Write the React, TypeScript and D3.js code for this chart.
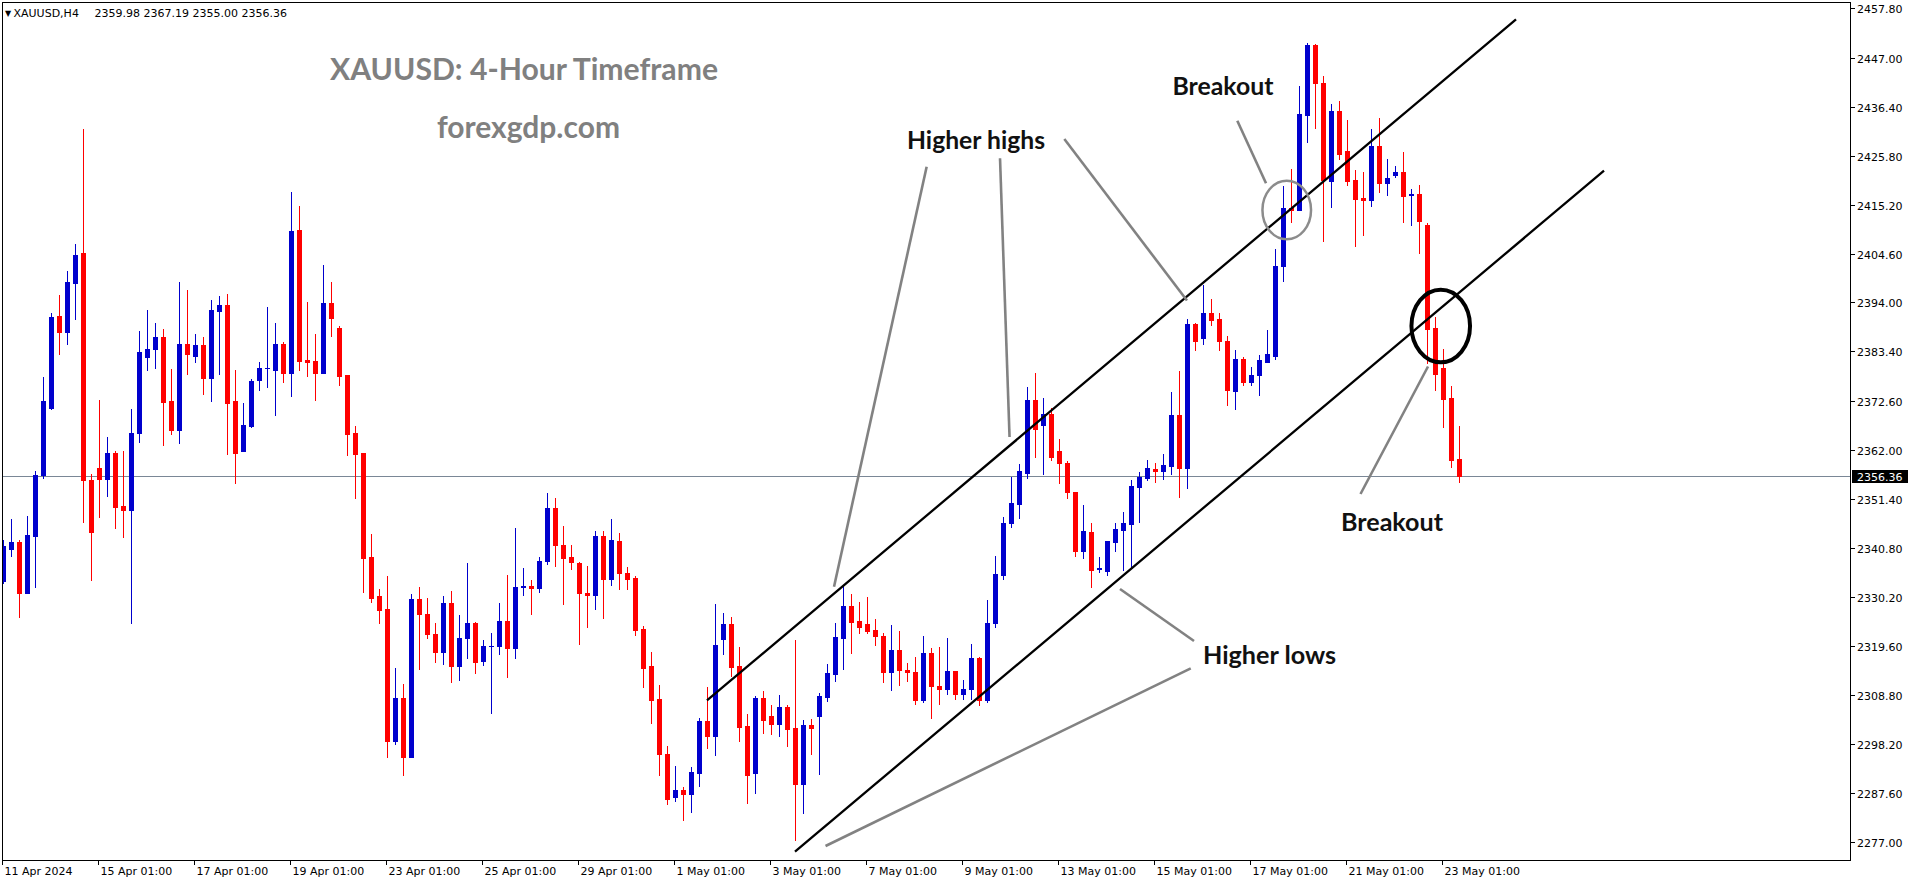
import React from "react";
import * as d3 from "d3";

// ---------- DATA (XAUUSD H4) ----------
const opens = [
  2333.7, 2340.6, 2342.1, 2330.9, 2343.4, 2356.5, 2371.2, 2391.1, 2387.5, 2398.3,
  2404.7, 2355.4, 2358.1, 2355.8, 2361.4, 2349.9, 2348.9, 2365.6, 2382.2, 2384.0,
  2386.5, 2372.6, 2366.4, 2385.0, 2382.5, 2384.8, 2377.7, 2392.2, 2393.5, 2372.6,
  2361.7, 2367.3, 2377.1, 2379.7, 2379.4, 2385.0, 2378.8, 2409.7, 2381.5, 2381.3,
  2378.7, 2393.9, 2388.5, 2378.2, 2365.7, 2361.3, 2338.7, 2330.3, 2327.6, 2298.8,
  2308.2, 2295.5, 2329.7, 2326.5, 2322.2, 2318.2, 2328.9, 2315.1, 2321.2, 2324.6,
  2316.2, 2319.4, 2319.4, 2325.0, 2319.0, 2332.3, 2332.6, 2332.0, 2337.9, 2349.5,
  2341.4, 2338.7, 2337.4, 2331.1, 2330.5, 2343.4, 2334.0, 2342.3, 2335.3, 2334.3,
  2323.2, 2315.2, 2308.0, 2296.1, 2286.8, 2288.3, 2287.5, 2292.0, 2303.2, 2300.0,
  2321.0, 2324.3, 2315.2, 2302.2, 2292.0, 2308.2, 2304.3, 2302.6, 2306.3, 2301.7,
  2289.6, 2302.4, 2304.3, 2308.5, 2313.4, 2321.2, 2328.2, 2324.9, 2324.3, 2323.0,
  2321.7, 2313.9, 2318.6, 2314.3, 2313.9, 2307.8, 2317.9, 2310.9, 2310.1, 2314.0,
  2309.0, 2310.1, 2316.9, 2307.7, 2324.4, 2335.0, 2346.1, 2350.4, 2357.1, 2372.9,
  2367.5, 2369.8, 2361.9, 2359.3, 2352.8, 2340.2, 2344.2, 2336.2, 2335.8, 2342.1,
  2344.7, 2346.0, 2353.9, 2356.0, 2357.8, 2357.5, 2358.6, 2369.5, 2358.0, 2389.3,
  2386.3, 2391.7, 2390.4, 2385.7, 2374.9, 2381.7, 2376.8, 2378.3, 2381.1, 2382.5,
  2401.9, 2414.4, 2414.0, 2434.7, 2449.8, 2441.7, 2420.4, 2435.5, 2426.9, 2420.6,
  2416.6, 2416.3, 2427.9, 2420.0, 2421.6, 2422.3, 2417.4, 2417.5, 2410.8, 2388.5,
  2379.8, 2373.3, 2359.98,
];
const highs = [
  2342.5, 2347.1, 2342.5, 2347.7, 2357.5, 2377.9, 2391.8, 2395.6, 2400.8, 2406.7,
  2431.6, 2356.8, 2372.9, 2364.9, 2361.9, 2361.7, 2370.9, 2387.9, 2392.4, 2389.6,
  2388.3, 2379.6, 2398.5, 2396.7, 2387.2, 2386.5, 2394.5, 2395.4, 2395.9, 2379.4,
  2372.3, 2377.5, 2381.1, 2393.0, 2389.6, 2385.4, 2418.0, 2414.9, 2394.1, 2387.2,
  2402.1, 2398.4, 2388.9, 2378.2, 2367.2, 2361.4, 2343.9, 2331.9, 2334.6, 2314.8,
  2311.3, 2330.8, 2332.2, 2329.9, 2324.4, 2330.3, 2331.4, 2326.2, 2337.4, 2324.8,
  2320.9, 2322.3, 2328.9, 2334.8, 2345.0, 2336.5, 2333.8, 2338.8, 2352.6, 2351.7,
  2345.5, 2341.5, 2337.7, 2336.8, 2344.5, 2344.4, 2347.0, 2344.1, 2336.6, 2334.7,
  2323.8, 2318.2, 2311.1, 2297.8, 2293.5, 2288.9, 2293.3, 2303.8, 2310.6, 2328.6,
  2326.7, 2325.8, 2319.3, 2304.8, 2308.7, 2309.8, 2306.7, 2308.9, 2306.7, 2320.8,
  2303.5, 2303.7, 2309.3, 2315.6, 2324.5, 2332.5, 2330.8, 2329.1, 2330.1, 2325.4,
  2322.3, 2324.1, 2322.8, 2315.8, 2317.1, 2321.7, 2319.0, 2319.3, 2321.2, 2314.0,
  2312.1, 2319.9, 2317.2, 2329.5, 2339.0, 2347.4, 2356.1, 2359.0, 2375.7, 2378.7,
  2373.3, 2371.2, 2364.5, 2359.7, 2352.8, 2350.0, 2346.1, 2338.7, 2342.3, 2346.1,
  2348.5, 2355.4, 2357.2, 2359.8, 2359.1, 2361.2, 2374.6, 2379.2, 2390.4, 2389.6,
  2397.7, 2394.8, 2391.7, 2386.7, 2383.8, 2382.2, 2380.0, 2382.6, 2388.0, 2405.5,
  2419.2, 2423.0, 2441.0, 2450.2, 2450.1, 2443.1, 2437.0, 2437.6, 2433.6, 2422.8,
  2422.3, 2431.6, 2434.0, 2425.1, 2423.6, 2426.6, 2418.6, 2419.5, 2411.3, 2390.9,
  2383.9, 2375.9, 2367.19,
];
const lows = [
  2333.2, 2339.0, 2325.9, 2330.9, 2332.4, 2355.9, 2370.8, 2382.9, 2384.9, 2390.5,
  2346.4, 2333.8, 2347.4, 2352.1, 2345.0, 2343.2, 2324.4, 2363.8, 2379.4, 2379.7,
  2363.2, 2365.4, 2363.6, 2378.4, 2381.0, 2374.2, 2372.7, 2378.4, 2361.2, 2354.8,
  2361.7, 2366.9, 2375.1, 2375.6, 2369.7, 2376.8, 2373.8, 2379.4, 2378.1, 2372.9,
  2378.7, 2386.8, 2376.0, 2360.9, 2351.5, 2331.2, 2329.0, 2324.4, 2295.5, 2298.2,
  2291.5, 2295.4, 2314.5, 2321.2, 2316.1, 2315.7, 2311.8, 2312.1, 2316.8, 2313.6,
  2315.3, 2304.9, 2317.7, 2312.7, 2316.8, 2330.5, 2326.4, 2331.2, 2337.3, 2336.8,
  2328.6, 2336.3, 2319.9, 2323.6, 2327.5, 2325.5, 2332.7, 2331.9, 2331.9, 2321.8,
  2310.7, 2302.9, 2291.5, 2285.2, 2285.9, 2281.8, 2283.5, 2289.1, 2297.4, 2295.9,
  2317.8, 2313.0, 2298.9, 2285.5, 2287.6, 2300.6, 2300.4, 2300.0, 2297.8, 2277.4,
  2283.3, 2296.1, 2291.8, 2307.6, 2311.9, 2314.5, 2318.0, 2322.3, 2322.3, 2319.7,
  2311.7, 2310.0, 2311.1, 2311.9, 2306.9, 2307.4, 2303.8, 2306.9, 2309.2, 2308.1,
  2308.1, 2308.0, 2306.7, 2307.4, 2323.6, 2334.0, 2345.4, 2347.3, 2356.0, 2360.4,
  2356.7, 2359.8, 2354.9, 2351.5, 2339.1, 2338.5, 2332.2, 2335.5, 2335.0, 2340.0,
  2336.0, 2336.7, 2346.5, 2355.5, 2355.0, 2355.7, 2356.8, 2351.9, 2353.8, 2383.7,
  2385.1, 2389.1, 2383.7, 2371.8, 2370.9, 2376.0, 2376.2, 2374.0, 2381.0, 2381.8,
  2398.7, 2411.5, 2414.0, 2428.9, 2431.9, 2407.4, 2414.8, 2425.2, 2419.5, 2406.3,
  2408.7, 2415.0, 2417.9, 2417.3, 2421.3, 2411.5, 2410.7, 2404.8, 2380.8, 2375.1,
  2366.9, 2358.4, 2355.0,
];
const closes = [
  2341.1, 2342.1, 2330.9, 2343.6, 2356.5, 2372.6, 2390.9, 2387.5, 2398.5, 2404.3,
  2355.4, 2344.3, 2355.8, 2361.4, 2349.7, 2348.9, 2365.8, 2383.3, 2383.9, 2386.5,
  2372.5, 2366.4, 2385.0, 2382.9, 2384.8, 2377.7, 2392.4, 2393.5, 2372.3, 2361.3,
  2367.4, 2377.0, 2379.8, 2379.8, 2385.0, 2378.8, 2409.5, 2381.4, 2381.2, 2378.8,
  2393.9, 2390.7, 2378.1, 2365.5, 2361.2, 2338.6, 2329.9, 2327.3, 2298.8, 2308.2,
  2295.5, 2329.6, 2326.4, 2322.1, 2318.2, 2328.9, 2315.1, 2321.3, 2324.6, 2316.0,
  2319.4, 2319.5, 2325.0, 2319.0, 2332.4, 2332.5, 2332.0, 2337.9, 2349.5, 2341.4,
  2338.5, 2337.7, 2330.9, 2330.5, 2343.3, 2334.0, 2342.4, 2335.3, 2334.1, 2323.0,
  2314.7, 2307.8, 2296.1, 2286.3, 2288.3, 2287.5, 2292.2, 2303.2, 2300.0, 2319.7,
  2324.3, 2315.0, 2301.9, 2291.5, 2308.2, 2303.5, 2302.6, 2306.3, 2301.5, 2289.6,
  2302.4, 2301.7, 2308.7, 2313.7, 2321.5, 2328.2, 2324.7, 2323.6, 2322.8, 2321.7,
  2313.9, 2318.6, 2314.3, 2313.9, 2307.8, 2318.0, 2310.9, 2310.1, 2314.0, 2309.0,
  2310.1, 2316.9, 2307.7, 2324.6, 2335.1, 2346.1, 2350.5, 2357.5, 2372.9, 2366.6,
  2369.8, 2360.5, 2359.3, 2352.8, 2340.2, 2344.4, 2336.0, 2336.4, 2342.3, 2344.9,
  2346.1, 2354.2, 2356.2, 2358.0, 2357.5, 2358.7, 2369.5, 2358.1, 2389.3, 2385.7,
  2391.7, 2390.3, 2385.6, 2375.1, 2381.7, 2376.8, 2378.3, 2381.5, 2382.8, 2401.9,
  2414.4, 2414.0, 2434.9, 2449.8, 2441.7, 2420.6, 2435.5, 2426.3, 2420.4, 2416.5,
  2416.3, 2427.9, 2420.0, 2421.0, 2422.3, 2417.2, 2417.5, 2411.7, 2388.3, 2378.6,
  2373.1, 2359.9, 2356.36,
];

const priceTicks = [
  2457.8, 2447.0, 2436.4, 2425.8, 2415.2, 2404.6, 2394.0, 2383.4, 2372.6,
  2362.0, 2351.4, 2340.8, 2330.2, 2319.6, 2308.8, 2298.2, 2287.6, 2277.0,
];
const timeLabels = [
  "11 Apr 2024", "15 Apr 01:00", "17 Apr 01:00", "19 Apr 01:00", "23 Apr 01:00",
  "25 Apr 01:00", "29 Apr 01:00", "1 May 01:00", "3 May 01:00", "7 May 01:00",
  "9 May 01:00", "13 May 01:00", "15 May 01:00", "17 May 01:00", "21 May 01:00",
  "23 May 01:00",
];
const timeLabelBars = [0, 12, 24, 36, 48, 60, 72, 84, 96, 108, 120, 132, 144, 156, 168, 180];

// trend channel lines [barIndex, price]
const channelUpper: [number, number][] = [[87.96, 2307.69], [189.09, 2455.41]];
const channelLower: [number, number][] = [[98.96, 2274.9], [200.09, 2422.58]];
// gray pointer lines [barIndex, price]
const pointerLines: [number, number][][] = [
  [[115.42, 2423.45], [103.84, 2332.37]],
  [[124.59, 2425.27], [125.78, 2364.83]],
  [[132.63, 2429.45], [147.96, 2394.43]],
  [[154.25, 2433.43], [157.84, 2419.85]],
  [[178.09, 2380.12], [169.65, 2352.47]],
  [[139.59, 2331.87], [148.84, 2320.59]],
  [[148.43, 2314.67], [102.78, 2276.13]],
];
const grayCircleCenter: [number, number] = [160.43, 2414.06];
const blackCircleCenter: [number, number] = [179.68, 2388.9];

const symbolName = "XAUUSD,H4";

// ---------- LAYOUT ----------
const W = 1914;
const H = 884;
const plotLeft = 2.5;
const plotTop = 2.5;
const plotRight = 1850.5;
const plotBottom = 860.5;
const BULL = "#0000cd";
const BEAR = "#ff0000";
const AXIS_FONT = "'DejaVu Sans', Tahoma, sans-serif";
const ANN_FONT = "Lato, 'Open Sans', sans-serif";

export default function App() {
  const n = opens.length;
  const x = d3.scaleLinear().domain([0, n - 1]).range([3.3, 3.3 + 8 * (n - 1)]);
  const y = d3.scaleLinear().domain([2277, 2457.8]).range([842, 8.3]);
  const line = d3
    .line<[number, number]>()
    .x((d) => x(d[0]))
    .y((d) => y(d[1]));

  const last = closes[n - 1];
  const lastY = y(last);

  const candles = opens.map((o, i) => {
    const c = closes[i];
    const bull = c >= o;
    const color = bull ? BULL : BEAR;
    const cx = Math.round(x(i));
    const top = Math.round(y(Math.max(o, c)));
    const bot = Math.round(y(Math.min(o, c)));
    const hy = Math.round(y(highs[i]));
    const ly = Math.round(y(lows[i]));
    return (
      <g key={i}>
        <rect x={cx} y={hy} width={1} height={Math.max(1, ly - hy + 1)} fill={color} />
        <rect x={cx - 2} y={top} width={5} height={Math.max(1, bot - top + 1)} fill={color} />
      </g>
    );
  });

  return (
    <div style={{ position: "absolute", left: 0, top: 0 }}>
      <svg width={W} height={H} style={{ display: "block", background: "#fff" }}>
        <defs>
          <clipPath id="plotclip">
            <rect x={plotLeft + 0.5} y={plotTop + 0.5} width={plotRight - plotLeft - 1} height={plotBottom - plotTop - 1} />
          </clipPath>
        </defs>
        <rect x={0} y={0} width={W} height={H} fill="#ffffff" />

        {/* header */}
        <text x={5} y={15.5} fontFamily={AXIS_FONT} fontSize={8} fill="#000">▼</text>
        <text x={13.5} y={16.5} fontFamily={AXIS_FONT} fontSize={11} fill="#000">{symbolName}</text>
        <text x={94.5} y={16.5} fontFamily={AXIS_FONT} fontSize={11} fill="#000">
          {[opens[n - 1], highs[n - 1], lows[n - 1], closes[n - 1]].map((v) => v.toFixed(2)).join(" ")}
        </text>

        {/* title */}
        <text x={330} y={80} fontFamily={ANN_FONT} fontWeight={700} fontSize={30} fill="#808080" textLength={388} lengthAdjust="spacingAndGlyphs">
          XAUUSD: 4-Hour Timeframe
        </text>
        <text x={437} y={138} fontFamily={ANN_FONT} fontWeight={700} fontSize={30} fill="#808080" textLength={183} lengthAdjust="spacingAndGlyphs">
          forexgdp.com
        </text>

        <g clipPath="url(#plotclip)">
          {/* current price line */}
          <line x1={plotLeft} x2={plotRight} y1={Math.round(lastY) + 0.5} y2={Math.round(lastY) + 0.5} stroke="#7a8796" strokeWidth={1} />
          <g shapeRendering="crispEdges">{candles}</g>

          {/* channel */}
          <path d={line(channelUpper) || ""} stroke="#000" strokeWidth={2.3} fill="none" />
          <path d={line(channelLower) || ""} stroke="#000" strokeWidth={2.3} fill="none" />

          {/* pointers */}
          {pointerLines.map((pl, k) => (
            <path key={k} d={line(pl) || ""} stroke="#828282" strokeWidth={2.6} fill="none" />
          ))}

          <ellipse cx={x(grayCircleCenter[0])} cy={y(grayCircleCenter[1])} rx={24.3} ry={29.3} stroke="#8c8c8c" strokeWidth={2.5} fill="none" />
          <ellipse cx={x(blackCircleCenter[0])} cy={y(blackCircleCenter[1])} rx={29.3} ry={36.3} stroke="#000" strokeWidth={4} fill="none" />
        </g>

        {/* annotation labels */}
        <g fontFamily={ANN_FONT} fontWeight={700} fontSize={24} fill="#111">
          <text x={907} y={148.7} textLength={138} lengthAdjust="spacingAndGlyphs">Higher highs</text>
          <text x={1172.5} y={94.7} textLength={101} lengthAdjust="spacingAndGlyphs">Breakout</text>
          <text x={1341} y={531} textLength={102} lengthAdjust="spacingAndGlyphs">Breakout</text>
          <text x={1203} y={664} textLength={133} lengthAdjust="spacingAndGlyphs">Higher lows</text>
        </g>

        {/* frame */}
        <rect x={plotLeft} y={plotTop} width={plotRight - plotLeft} height={plotBottom - plotTop} fill="none" stroke="#000" strokeWidth={1} shapeRendering="crispEdges" />

        {/* price axis */}
        <g fontFamily={AXIS_FONT} fontSize={11} fill="#000" shapeRendering="crispEdges">
          {priceTicks.map((v) => {
            const ty = Math.round(y(v));
            return (
              <g key={v}>
                <line x1={plotRight} x2={plotRight + 4} y1={ty + 0.5} y2={ty + 0.5} stroke="#000" />
                <text x={1857} y={ty + 4.5}>{v.toFixed(2)}</text>
              </g>
            );
          })}
          <rect x={1851.5} y={Math.round(lastY) - 6} width={56} height={13} fill="#000" />
          <text x={1857} y={Math.round(lastY) + 4.5} fill="#fff">{last.toFixed(2)}</text>
        </g>

        {/* time axis */}
        <g fontFamily={AXIS_FONT} fontSize={11} fill="#000" shapeRendering="crispEdges">
          {timeLabels.map((t, k) => {
            const tx = Math.round(x(timeLabelBars[k])) - 0.5;
            return (
              <g key={t}>
                <line x1={tx} x2={tx} y1={plotBottom} y2={plotBottom + 4} stroke="#000" />
                <text x={tx + 2} y={875}>{t}</text>
              </g>
            );
          })}
        </g>
      </svg>
    </div>
  );
}
